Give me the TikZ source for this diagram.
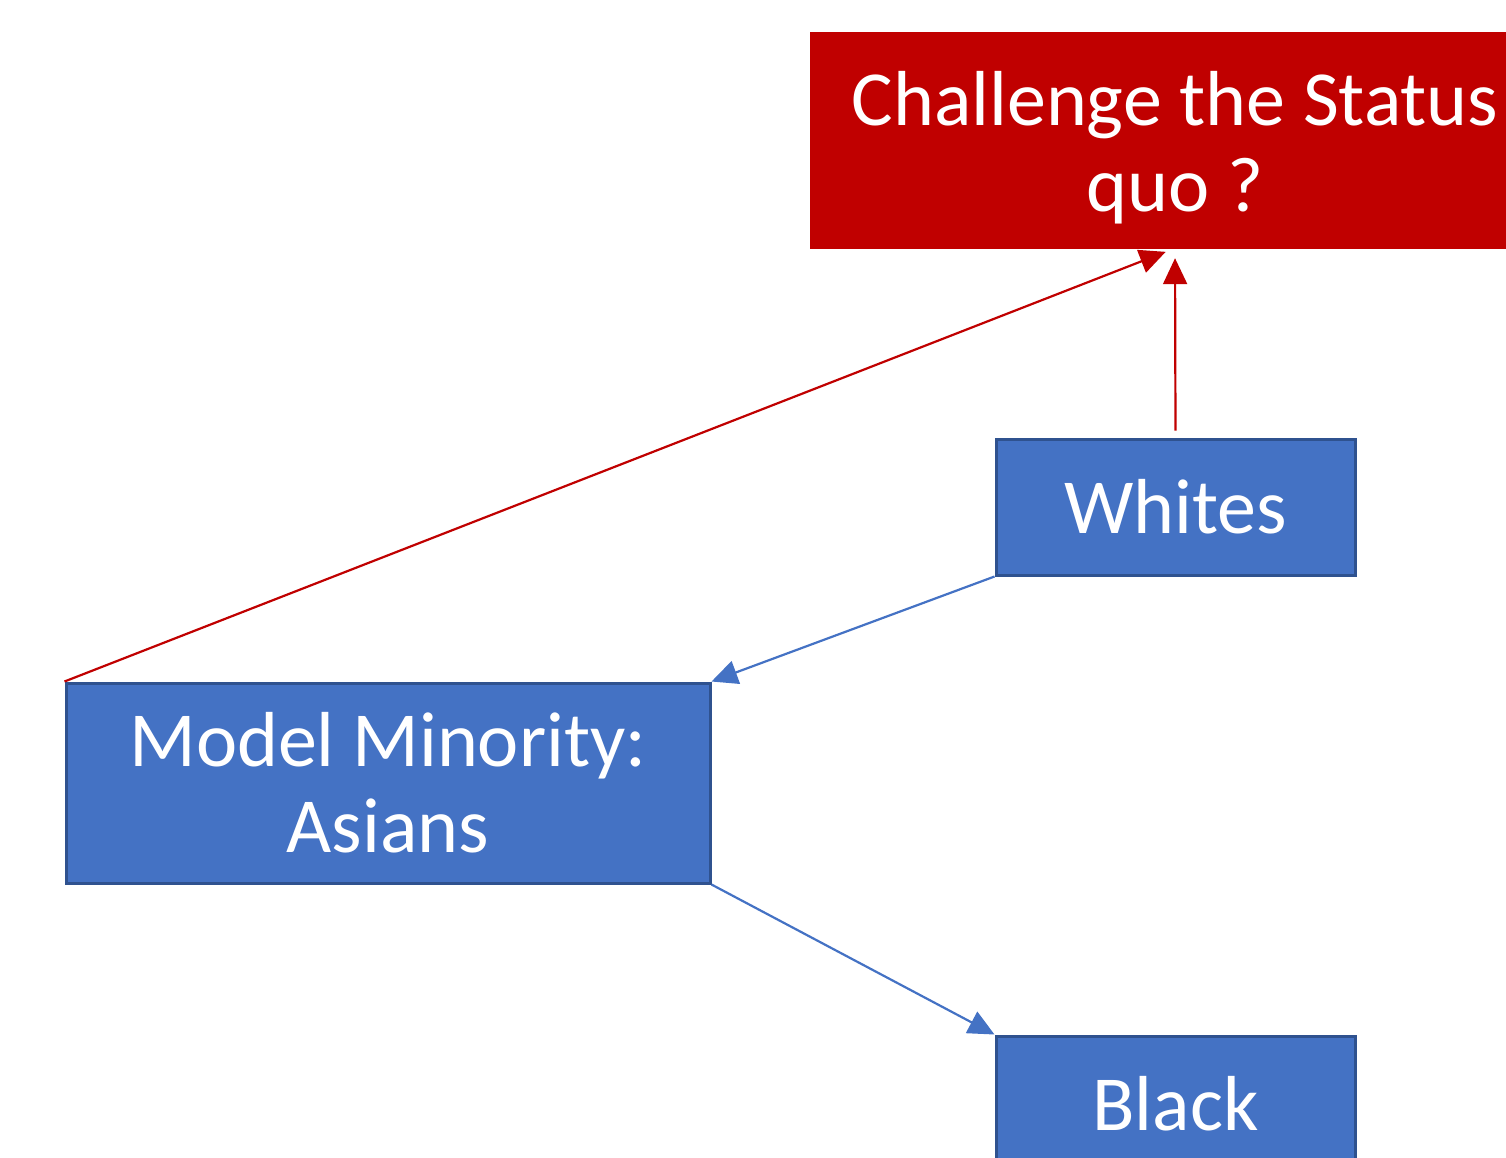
\documentclass[tikz,border=0pt]{standalone}
\usepackage{fontspec}
\setmainfont{Carlito}
\usetikzlibrary{arrows.meta}
\tikzset{>={Triangle[length=26pt,width=24pt]}}
\definecolor{boxblue}{RGB}{68,114,196}
\definecolor{edgeblue}{RGB}{47,82,143}
\definecolor{boxred}{RGB}{192,0,0}

\tikzset{
  boxtext/.style={text=white,inner sep=0pt,align=center,
    font=\fontsize{78}{86}\selectfont},
  bluebox/.style={boxtext,draw=edgeblue,line width=3pt,fill=boxblue},
  redbox/.style={draw=boxred,fill=boxred,inner sep=0pt},
  redline/.style={->,boxred,line width=2.2pt},
  blueline/.style={->,boxblue,line width=2.2pt}
}

\begin{document}
\begin{tikzpicture}[x=1pt,y=-1pt]
\useasboundingbox (0,0) rectangle (1506,1157);
\clip (0,0) rectangle (1506,1157);
\node[redbox,minimum width=730pt,minimum height=216pt] (challenge) at (1175,140) {};
\node[boxtext] (challengetext) at ([yshift=-8pt]challenge.center) {Challenge the Status\\quo ?};
\node[bluebox,minimum width=359pt,minimum height=136pt] (whites) at (1175.5,507) {Whites};
\node[bluebox,minimum width=644pt,minimum height=200pt] (asians) at (388,783) {Model Minority:\\Asians};
\node[bluebox,minimum width=359pt,minimum height=136pt] (black) at (1175.5,1104) {Black};
% connectors
\draw[redline,shorten >=10pt] (asians.north west) -- (challenge.south);
\draw[redline,shorten <=7pt,shorten >=10pt] (whites.north) -- (challenge.south);
\draw[blueline] (whites.south west) -- (asians.north east);
\draw[blueline] (asians.south east) -- (black.north west);
\end{tikzpicture}
\end{document}
